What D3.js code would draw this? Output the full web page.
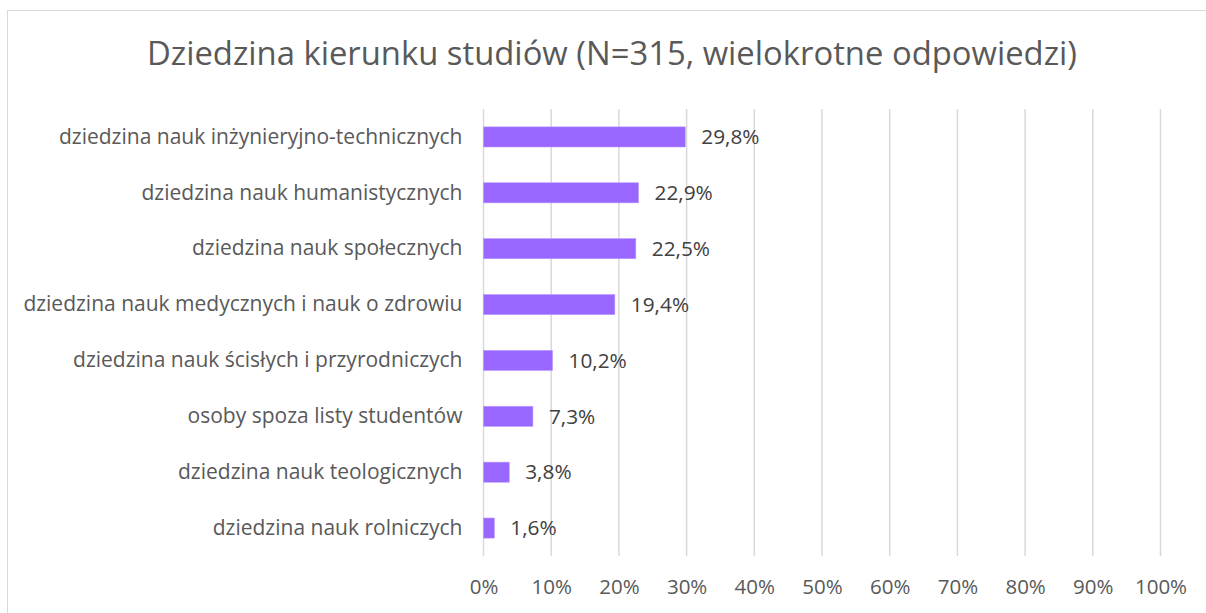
<!DOCTYPE html>
<meta charset="utf-8">
<html lang="pl">
<head>
    <title>Dziedzina kierunku studiów</title>
    <script src="https://d3js.org/d3.v7.min.js"></script>
    <style>
        body { margin: 0; background: #fff; }
        text { font-family: "Open Sans", Lato, sans-serif; fill: #595959; }
    </style>
</head>
<body>
    <div id="chart"></div>
    <script>
        // data
        const categories = [
            "dziedzina nauk inżynieryjno-technicznych",
            "dziedzina nauk humanistycznych",
            "dziedzina nauk społecznych",
            "dziedzina nauk medycznych i nauk o zdrowiu",
            "dziedzina nauk ścisłych i przyrodniczych",
            "osoby spoza listy studentów",
            "dziedzina nauk teologicznych",
            "dziedzina nauk rolniczych"
        ];
        const values = [29.8, 22.9, 22.5, 19.4, 10.2, 7.3, 3.8, 1.6];
        const valueLabels = ["29,8%", "22,9%", "22,5%", "19,4%", "10,2%", "7,3%", "3,8%", "1,6%"];
        const ticks = [0, 10, 20, 30, 40, 50, 60, 70, 80, 90, 100];

        const width = 1206,
            height = 613;
        const plot = { left: 483.5, right: 1160.5, top: 109, bottom: 556 };

        const svg = d3.select("#chart")
            .append("svg")
            .attr("width", width)
            .attr("height", height);

        // chart border (Excel style frame)
        svg.append("rect")
            .attr("x", 7.5)
            .attr("y", 10.5)
            .attr("width", 1230)
            .attr("height", 640)
            .attr("fill", "none")
            .attr("stroke", "#d9d9d9");

        svg.append("text")
            .attr("x", 612)
            .attr("y", 65)
            .attr("text-anchor", "middle")
            .style("font-size", "32.8px")
            .text("Dziedzina kierunku studiów (N=315, wielokrotne odpowiedzi)");

        const x = d3.scaleLinear()
            .domain([0, 100])
            .range([plot.left, plot.right]);

        const y = d3.scaleBand()
            .domain(categories)
            .range([plot.top, plot.bottom])
            .paddingInner(0.64)
            .paddingOuter(0.32);

        // vertical gridlines
        svg.append("g")
            .selectAll("line")
            .data(ticks)
            .enter()
            .append("line")
            .attr("x1", d => x(d))
            .attr("x2", d => x(d))
            .attr("y1", plot.top)
            .attr("y2", plot.bottom)
            .attr("stroke", "#d9d9d9")
            .attr("stroke-width", 1.5);

        // x axis labels
        const xAxis = d3.axisBottom(x)
            .tickValues(ticks)
            .tickFormat(d => d + "%")
            .tickSize(0)
            .tickPadding(0);

        const gx = svg.append("g")
            .attr("transform", `translate(0,${plot.bottom + 23})`)
            .call(xAxis);
        gx.select(".domain").remove();
        gx.selectAll("text")
            .style("font-family", "'Open Sans', sans-serif")
            .style("font-size", "20.5px")
            .style("fill", "#595959");

        // category labels
        const yAxis = d3.axisLeft(y)
            .tickSize(0)
            .tickPadding(21);
        const gy = svg.append("g")
            .attr("transform", `translate(${plot.left},0)`)
            .call(yAxis);
        gy.select(".domain").remove();
        gy.selectAll("text")
            .style("font-family", "'Open Sans', sans-serif")
            .style("font-size", "21px")
            .style("fill", "#595959");

        // bars
        svg.append("g")
            .selectAll("rect")
            .data(values)
            .enter()
            .append("rect")
            .attr("x", x(0))
            .attr("y", (d, i) => y(categories[i]))
            .attr("width", d => x(d) - x(0))
            .attr("height", y.bandwidth())
            .attr("fill", "#9966ff")
            .attr("stroke", "#b99cff")
            .attr("stroke-width", 0.6);

        // value labels
        svg.append("g")
            .selectAll("text")
            .data(values)
            .enter()
            .append("text")
            .attr("x", d => x(d) + 16)
            .attr("y", (d, i) => y(categories[i]) + y.bandwidth() / 2)
            .attr("dy", "0.35em")
            .style("font-size", "20.8px")
            .style("fill", "#404040")
            .text((d, i) => valueLabels[i]);
    </script>
</body>
</html>
